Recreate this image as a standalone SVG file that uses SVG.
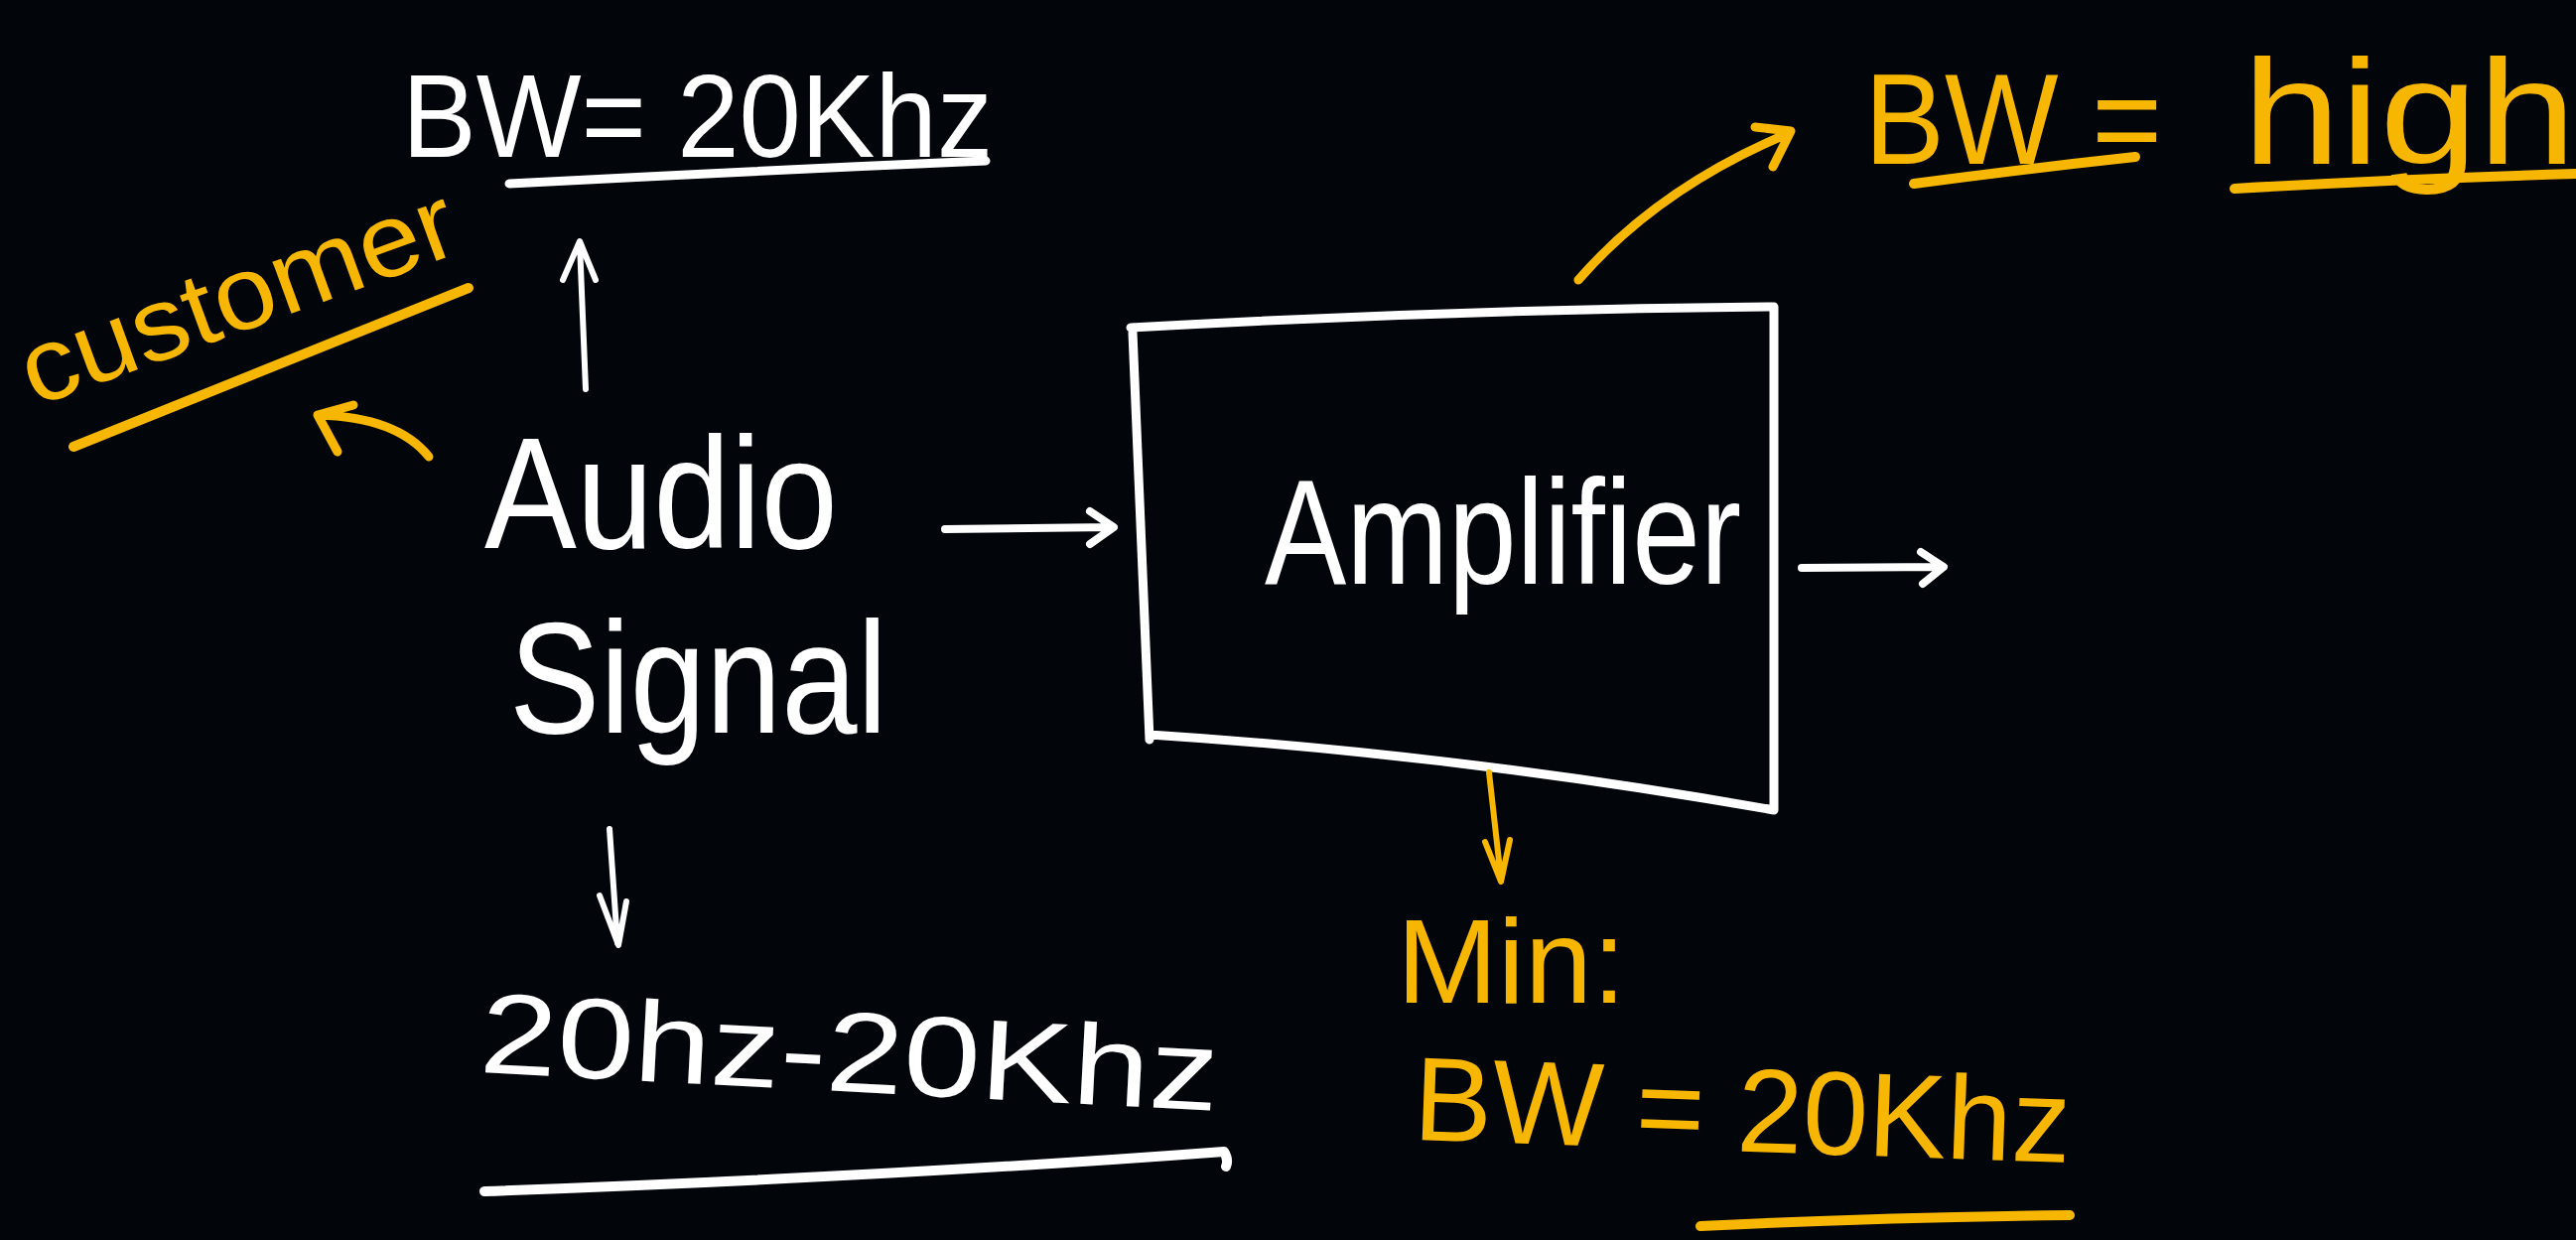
<svg xmlns="http://www.w3.org/2000/svg" width="2595" height="1249" viewBox="0 0 2595 1249">
  <style>
    .w { fill: #ffffff; font-family: "Liberation Sans", "DejaVu Sans", sans-serif; }
    .y { fill: #f7b600; font-family: "Liberation Sans", "DejaVu Sans", sans-serif; }
    .ws { fill: none; stroke: #ffffff; stroke-linecap: round; stroke-linejoin: round; }
    .ys { fill: none; stroke: #f7b600; stroke-linecap: round; stroke-linejoin: round; }
  </style>
  <rect width="2595" height="1249" fill="#02060b"/>

  <!-- audio signal input -->
  <g id="audio-signal">
    <text class="w" x="488" y="552" font-size="160" textLength="356" lengthAdjust="spacingAndGlyphs">Audio</text>
    <text class="w" x="513" y="738" font-size="160" textLength="381" lengthAdjust="spacingAndGlyphs">Signal</text>
  </g>

  <!-- bandwidth of the audio signal -->
  <g id="bw-audio">
    <text class="w" x="405" y="158" font-size="118" textLength="595" lengthAdjust="spacingAndGlyphs">BW= 20Khz</text>
    <path class="ws" stroke-width="9" d="M513,185 Q760,172 993,162"/>
  </g>

  <!-- customer note -->
  <g id="customer">
    <text class="y" x="0" y="0" font-size="105" textLength="460" lengthAdjust="spacingAndGlyphs" transform="translate(35,410) rotate(-20)">customer</text>
    <path class="ys" stroke-width="10" d="M74,450 L472,290"/>
  </g>

  <!-- frequency range -->
  <g id="freq-range">
    <text class="w" x="0" y="0" font-size="115" textLength="745" lengthAdjust="spacingAndGlyphs" transform="translate(482,1080) rotate(3)">20hz-20Khz</text>
    <path class="ws" stroke-width="10" d="M488,1200 Q900,1185 1233,1160 Q1238,1168 1235,1175"/>
  </g>

  <!-- amplifier block -->
  <g id="amplifier">
    <path class="ws" stroke-width="9" d="M1139,330 Q1460,312 1787,309 L1787,816 Q1470,760 1158,740 M1141,335 L1158,745"/>
    <text class="w" x="1274" y="588" font-size="150" textLength="480" lengthAdjust="spacingAndGlyphs">Amplifier</text>
  </g>

  <!-- amplifier bandwidth note -->
  <g id="bw-high">
    <text class="y" x="1878" y="165" font-size="130" textLength="300" lengthAdjust="spacingAndGlyphs">BW =</text>
    <text class="y" x="2259" y="165" font-size="150" textLength="336" lengthAdjust="spacingAndGlyphs">high</text>
    <path class="ys" stroke-width="10" d="M1928,185 Q2040,170 2151,158"/>
    <path class="ys" stroke-width="10" d="M2251,190 Q2420,180 2595,175"/>
  </g>

  <!-- minimum bandwidth note -->
  <g id="bw-min">
    <text class="y" x="1407" y="1010" font-size="120" textLength="231" lengthAdjust="spacingAndGlyphs">Min:</text>
    <text class="y" x="0" y="0" font-size="120" textLength="662" lengthAdjust="spacingAndGlyphs" transform="translate(1423,1148) rotate(2)">BW = 20Khz</text>
    <path class="ys" stroke-width="10" d="M1713,1235 Q1900,1226 2085,1224"/>
  </g>

  <!-- connectors -->
  <g id="connectors">
    <!-- audio to amplifier -->
    <path class="ws" stroke-width="8" d="M952,533 L1120,531 M1098,515 L1122,531 L1098,548"/>
    <!-- amplifier output -->
    <path class="ws" stroke-width="8" d="M1815,572 L1955,571 M1935,556 L1958,571 L1937,588"/>
    <!-- audio up to bandwidth -->
    <path class="ws" stroke-width="6" d="M590,392 L584,245 M567,282 L584,243 L600,282"/>
    <!-- audio down to range -->
    <path class="ws" stroke-width="6" d="M614,835 L622,950 M604,902 L623,952 L631,908"/>
    <!-- toward customer -->
    <path class="ys" stroke-width="9" d="M432,460 Q400,420 320,418 M320,418 L340,455 M320,418 L356,408"/>
    <!-- amplifier to high bandwidth -->
    <path class="ys" stroke-width="9" d="M1590,282 Q1670,190 1800,135 M1768,128 L1804,132 L1786,168"/>
    <!-- amplifier down to minimum -->
    <path class="ys" stroke-width="6" d="M1500,778 L1512,885 M1496,848 L1512,888 L1521,846"/>
  </g>
</svg>
